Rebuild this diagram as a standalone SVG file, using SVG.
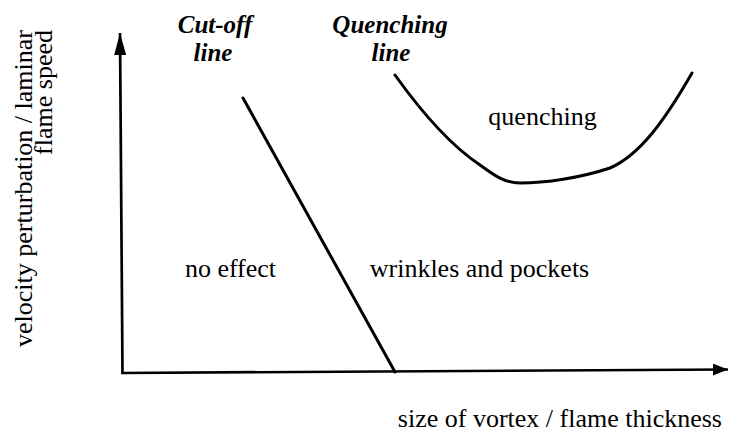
<svg xmlns="http://www.w3.org/2000/svg" width="729" height="443" viewBox="0 0 729 443">
<defs>
<marker id="ahy" viewBox="0 0 22 12" refX="22" refY="6" markerWidth="22" markerHeight="12" markerUnits="userSpaceOnUse" orient="auto">
<path d="M0,0 L22,6 L0,12 z" fill="#000" stroke="none"/>
</marker>
<marker id="ahx" viewBox="0 0 15 12" refX="15" refY="6" markerWidth="15" markerHeight="12" markerUnits="userSpaceOnUse" orient="auto">
<path d="M0,0 L15,6 L0,12 z" fill="#000" stroke="none"/>
</marker>
</defs>
<g id="axes" fill="none" stroke="#000" stroke-width="2.7">
<path d="M122.5,374 L120,33" marker-end="url(#ahy)"/>
<path d="M121,373 L728,369.5" marker-end="url(#ahx)"/>
</g>
<g id="connectors" fill="none" stroke="#000" stroke-width="3" stroke-linecap="round">
<path id="cutoff" d="M243,98 L395,372"/>
<path id="quench" d="M395,75 C420,110 450,145 480,165 C495,176 505,183 520,183 C545,183 580,178 610,168 C640,155 665,120 692,73"/>
</g>
<g id="labels">
<text font-family="Liberation Serif" font-size="25" font-style="italic" font-weight="bold" x="215" y="33" text-anchor="middle">Cut-off</text>
<text font-family="Liberation Serif" font-size="25" font-style="italic" font-weight="bold" x="213" y="61" text-anchor="middle">line</text>
<text font-family="Liberation Serif" font-size="25" font-style="italic" font-weight="bold" x="390" y="33" text-anchor="middle">Quenching</text>
<text font-family="Liberation Serif" font-size="25" font-style="italic" font-weight="bold" x="391" y="61" text-anchor="middle">line</text>
<text font-family="Liberation Serif" font-size="26" x="542.5" y="125" text-anchor="middle">quenching</text>
<text font-family="Liberation Serif" font-size="26" x="230.5" y="277" text-anchor="middle">no effect</text>
<text font-family="Liberation Serif" font-size="26" x="479.5" y="277" text-anchor="middle">wrinkles and pockets</text>
<text font-family="Liberation Serif" font-size="26" x="722" y="427" text-anchor="end">size of vortex / flame thickness</text>
<text font-family="Liberation Serif" font-size="26" transform="translate(32,30) rotate(-90)" text-anchor="end">velocity perturbation / laminar</text>
<text font-family="Liberation Serif" font-size="26" transform="translate(52,30) rotate(-90)" text-anchor="end">flame speed</text>
</g>
</svg>
